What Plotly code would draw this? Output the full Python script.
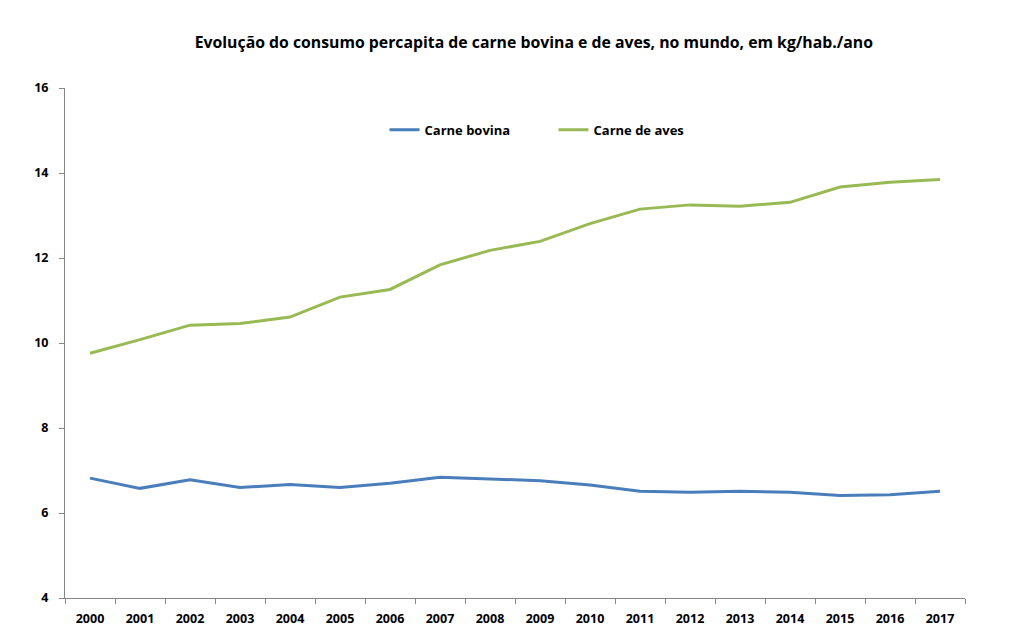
import plotly.graph_objects as go

anos = [str(a) for a in range(2000, 2018)]
carne_bovina = [6.82, 6.58, 6.78, 6.60, 6.67, 6.60, 6.70, 6.84, 6.80, 6.76,
                6.66, 6.51, 6.49, 6.51, 6.49, 6.41, 6.43, 6.51]
carne_aves = [9.76, 10.08, 10.42, 10.46, 10.61, 11.08, 11.26, 11.84, 12.18, 12.39,
              12.81, 13.15, 13.25, 13.22, 13.31, 13.67, 13.78, 13.85]

FONT = "Open Sans"

fig = go.Figure()
fig.add_trace(go.Scatter(x=anos, y=carne_bovina, mode="lines", name="<b>Carne bovina</b>",
                         line=dict(color="#4A7EBB", width=3)))
fig.add_trace(go.Scatter(x=anos, y=carne_aves, mode="lines", name="<b>Carne de aves</b>",
                         line=dict(color="#98B954", width=3)))

fig.update_layout(
    width=1013, height=632,
    margin=dict(l=65, r=48, t=88, b=34),
    paper_bgcolor="white", plot_bgcolor="white",
    font=dict(family=FONT, size=12, color="black"),
    title=dict(text="<b>Evolução do consumo percapita de carne bovina e de aves, no mundo, em kg/hab./ano</b>",
               x=0.527, xanchor="center", y=0.933, yanchor="middle",
               font=dict(family=FONT, size=15.8, color="black")),
    legend=dict(orientation="h", x=0.355, xanchor="left", y=0.918, yanchor="middle",
                font=dict(family=FONT, size=13, color="black"),
                entrywidth=124, entrywidthmode="pixels", bgcolor="rgba(0,0,0,0)"),
    showlegend=True,
)
fig.update_xaxes(type="category", range=[-0.5, 17.5], showline=True, linecolor="#868686",
                 linewidth=1, ticks="outside", tickson="boundaries", ticklen=5,
                 tickcolor="#868686", showgrid=False, zeroline=False, ticklabelstandoff=9,
                 automargin=False,
                 tickfont=dict(family=FONT, size=12.5, color="black", weight="bold"))
fig.update_yaxes(range=[4, 16], dtick=2, showline=True, linecolor="#868686", linewidth=1,
                 ticks="outside", ticklen=5, tickcolor="#868686", showgrid=False,
                 zeroline=False, ticklabelstandoff=8, automargin=False,
                 tickfont=dict(family=FONT, size=12.5, color="black", weight="bold"))

fig.write_html("out.html")
